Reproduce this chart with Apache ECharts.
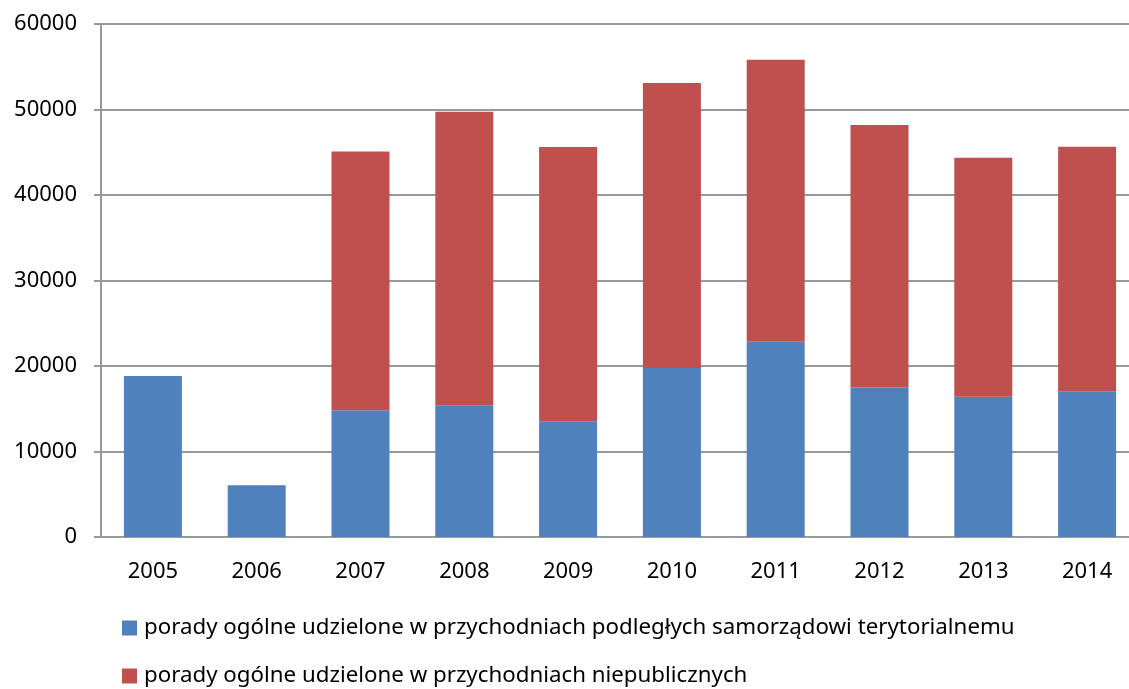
<!DOCTYPE html>
<html>
<head>
<meta charset="utf-8">
<script src="https://cdn.jsdelivr.net/npm/echarts@6/dist/echarts.min.js"></script>
<style>
  html, body { margin: 0; padding: 0; background: #fff; }
  #chart { width: 1129px; height: 689px; }
</style>
</head>
<body>
<div id="chart"></div>
<script>
var years = ['2005', '2006', '2007', '2008', '2009', '2010', '2011', '2012', '2013', '2014'];
var samorzadowe = [18830, 6050, 14820, 15400, 13530, 19770, 22840, 17500, 16410, 17040];
var niepubliczne = [null, null, 30280, 34340, 32080, 33330, 32980, 30690, 27950, 28610];
var seriesNames = [
  'porady ogólne udzielone w przychodniach podległych samorządowi terytorialnemu',
  'porady ogólne udzielone w przychodniach niepublicznych'
];

var font = 'Noto Sans';
var gray = '#999999';

// one legend per row, so they stack like the original
function legendRow(name, top) {
  return {
    orient: 'horizontal',
    left: 117,
    top: top,
    itemWidth: 15,
    itemHeight: 15,
    icon: 'rect',
    textStyle: { fontFamily: font, fontSize: 22.3, color: '#000', padding: [0, 0, 0, 2] },
    data: [name]
  };
}

var chart = echarts.init(document.getElementById('chart'));
chart.setOption({
  animation: false,
  textStyle: { fontFamily: font },
  // plot runs a bit past the right edge of the picture, as in the original
  grid: { left: 101, top: 24, bottom: 152, width: 1038, outerBoundsMode: 'none', containLabel: false },
  legend: [legendRow(seriesNames[0], 612), legendRow(seriesNames[1], 660)],
  xAxis: {
    type: 'category',
    data: years,
    axisLine: { lineStyle: { color: gray, width: 2 } },
    axisTick: { length: 8, lineStyle: { color: gray, width: 2 } },
    axisLabel: { color: '#000', fontSize: 22, margin: 24, fontFamily: font }
  },
  yAxis: {
    type: 'value',
    min: 0,
    max: 60000,
    interval: 10000,
    axisLine: { show: true, lineStyle: { color: gray, width: 2 } },
    axisTick: { show: true, length: 7, lineStyle: { color: gray, width: 2 } },
    splitLine: { lineStyle: { color: gray, width: 2 } },
    axisLabel: {
      color: '#000', fontSize: 22, margin: 24, fontFamily: font,
      formatter: function (v) { return String(v); }
    }
  },
  series: [
    {
      name: seriesNames[0],
      type: 'bar',
      stack: 'total',
      barWidth: 58,
      itemStyle: { color: '#4F81BD' },
      data: samorzadowe
    },
    {
      name: seriesNames[1],
      type: 'bar',
      stack: 'total',
      barWidth: 58,
      itemStyle: { color: '#C0504D' },
      data: niepubliczne
    }
  ]
});
</script>
</body>
</html>
